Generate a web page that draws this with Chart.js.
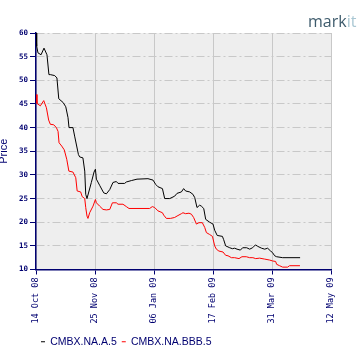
<!DOCTYPE html>
<html>
<head>
<meta charset="utf-8">
<script src="https://cdn.jsdelivr.net/npm/chart.js@4.4.0/dist/chart.umd.min.js"></script>
<style>
  body { margin: 0; background: #fff; }
  #wrap { width: 360px; height: 360px; }
</style>
</head>
<body>
<div id="wrap"><canvas id="cmbx-chart" width="360" height="360"></canvas></div>
<script>
// days after 14 Oct 08
const aDays = [0, 0.5, 1.4, 3.6, 5.7, 7.8, 9.2, 10.2, 13.3, 14.9,
  16.2, 19.3, 21.2, 22.8, 23.5, 26.3, 27.5, 30.2, 31.1, 33.4,
  34.7, 35.4, 36.3, 39.4, 41.3, 42.3, 43.0, 45.3, 48.2, 50.1,
  52.5, 54.8, 57.2, 58.4, 63.1, 64.3, 67.9, 71.9, 79.7, 83.3,
  85.2, 86.8, 90.0, 91.6, 95.2, 98.7, 100.4, 103.5, 105.1, 106.5,
  109.4, 111.7, 113.0, 114.6, 116.5, 117.7, 119.4, 120.8, 123.6, 126.0,
  127.2, 129.0, 132.7, 133.6, 135.0, 137.9, 139.8, 141.4, 143.1, 145.5,
  147.1, 150.0, 152.1, 154.2, 156.2, 157.8, 160.6, 162.8, 164.9, 167.0,
  168.3, 169.9, 171.3, 175.6, 188.0];
const aPrices = [60.0, 57.2, 55.8, 55.4, 56.8, 55.4, 51.2, 51.2, 51.0, 50.5,
  46.1, 45.3, 44.4, 42.1, 40.0, 40.0, 38.2, 34.3, 33.8, 33.6,
  30.8, 25.9, 25.0, 28.4, 30.6, 31.2, 29.1, 27.8, 26.2, 26.0,
  26.9, 28.4, 28.6, 28.2, 28.2, 28.5, 28.8, 29.1, 29.2, 28.9,
  28.0, 27.5, 27.1, 25.0, 25.0, 25.5, 26.1, 26.4, 27.1, 26.6,
  26.4, 25.9, 25.2, 23.1, 23.6, 23.4, 22.9, 20.6, 20.0, 19.6,
  18.3, 17.2, 17.0, 16.3, 15.0, 14.6, 14.4, 14.5, 14.3, 14.1,
  14.6, 14.6, 14.3, 14.6, 15.2, 14.9, 14.5, 14.3, 14.5, 13.9,
  13.6, 12.9, 12.7, 12.5, 12.5];

const bDays = [0, 0.7, 3.1, 5.5, 7.4, 9.0, 10.2, 12.6, 14.5, 15.7,
  16.4, 18.3, 20.1, 21.9, 23.4, 26.3, 28.3, 29.3, 31.8, 32.9,
  34.7, 35.4, 36.3, 37.0, 38.2, 40.6, 42.3, 43.0, 45.3, 47.7,
  50.1, 52.5, 54.4, 57.2, 58.4, 61.9, 64.3, 66.2, 80.9, 82.8,
  84.5, 86.8, 90.0, 90.9, 92.8, 95.7, 98.7, 100.4, 103.5, 104.6,
  106.5, 108.9, 110.6, 112.2, 114.2, 116.0, 118.4, 120.1, 121.3, 123.6,
  125.6, 127.2, 128.4, 130.2, 133.1, 135.0, 136.7, 139.1, 141.4, 144.5,
  146.6, 149.7, 152.1, 154.4, 156.4, 159.2, 162.8, 166.3, 168.5, 170.6,
  171.3, 173.4, 175.6, 179.1, 180.5, 187.9];
const bPrices = [47.0, 45.1, 44.6, 45.7, 44.2, 41.6, 40.7, 40.6, 40.0, 39.2,
  36.8, 36.1, 35.3, 33.3, 30.8, 30.6, 29.4, 26.6, 26.4, 25.4,
  25.0, 23.1, 21.3, 20.8, 22.0, 23.4, 24.8, 24.1, 23.4, 22.7,
  22.6, 22.7, 24.1, 24.1, 23.8, 23.8, 23.3, 22.9, 22.9, 23.3,
  23.1, 22.4, 22.0, 21.5, 20.8, 20.8, 21.0, 21.3, 21.8, 22.0,
  21.8, 21.9, 21.7, 21.0, 19.6, 19.9, 19.9, 18.9, 17.8, 17.4,
  17.0, 15.0, 14.3, 13.9, 13.7, 13.0, 12.9, 12.5, 12.5, 12.3,
  12.7, 12.7, 12.5, 12.5, 12.3, 12.4, 12.2, 12.0, 11.8, 11.7,
  11.1, 10.8, 10.5, 10.5, 10.8, 10.8];

const seriesNames = ["CMBX.NA.A.5", "CMBX.NA.BBB.5"];
const xTickLabels = ["14 Oct 08", "25 Nov 08", "06 Jan 09", "17 Feb 09", "31 Mar 09", "12 May 09"];

const navy = "#000070";

const plotBg = {
  id: "plotBg",
  beforeDraw(chart) {
    const { ctx, chartArea: a } = chart;
    ctx.save();
    ctx.fillStyle = "#eeeeee";
    ctx.fillRect(a.left, a.top, a.right - a.left, a.bottom - a.top);
    ctx.restore();
  },
};

const logo = {
  id: "logo",
  afterDraw(chart) {
    const ctx = chart.ctx;
    ctx.save();
    ctx.font = '16px "Open Sans"';
    ctx.textBaseline = "alphabetic";
    ctx.fillStyle = "#3e5b6c";
    ctx.fillText("mark", 308, 27);
    const w = ctx.measureText("mark").width;
    ctx.fillStyle = "#a9c7d3";
    ctx.fillText("it", 308 + w, 27);
    ctx.restore();
  },
};

const toPoints = (xs, ys) => xs.map((x, i) => ({ x: x, y: ys[i] }));

const ctx = document.getElementById("cmbx-chart");
const chart = new Chart(ctx, {
  type: "line",
  data: {
    datasets: [
      {
        label: seriesNames[0],
        data: toPoints(aDays, aPrices),
        borderColor: "#000000",
        backgroundColor: "#000000",
        borderWidth: 1,
        pointRadius: 0,
        tension: 0,
      },
      {
        label: seriesNames[1],
        data: toPoints(bDays, bPrices),
        borderColor: "#ff0000",
        backgroundColor: "#ff0000",
        borderWidth: 1,
        pointRadius: 0,
        tension: 0,
      },
    ],
  },
  options: {
    responsive: false,
    animation: false,
    layout: { padding: { top: 33, right: 29, bottom: 3, left: 0 } },
    plugins: {
      tooltip: { enabled: false },
      legend: {
        position: "bottom",
        align: "start",
        fullSize: false,
        labels: {
          usePointStyle: true,
          pointStyle: "line",
          pointStyleWidth: 4,
          boxHeight: 4,
          padding: 5,
          color: navy,
          font: { family: "Liberation Sans", size: 10.5 },
        },
      },
    },
    scales: {
      x: {
        type: "linear",
        min: 0,
        max: 210,
        ticks: {
          stepSize: 42,
          autoSkip: false,
          maxRotation: 90,
          minRotation: 90,
          padding: 3,
          color: navy,
          font: { family: "DejaVu Sans Mono", size: 8.5 },
          callback: (v) => xTickLabels[v / 42],
        },
        grid: { color: "#c8c8c8", tickColor: navy, tickLength: 5 },
        border: { color: navy, width: 1.5 },
        afterFit: (s) => { s.height = 62; },
      },
      y: {
        min: 10,
        max: 60,
        ticks: {
          stepSize: 5,
          padding: 2,
          color: navy,
          font: { family: "DejaVu Sans Mono", size: 7.5, weight: "bold" },
        },
        grid: { color: "#c8c8c8", tickColor: navy, tickLength: 6 },
        border: { color: navy, width: 1.5, dash: [8, 3, 2, 3] },
        title: {
          display: true,
          text: "Price",
          color: navy,
          font: { family: "Liberation Sans", size: 11, lineHeight: 0.8 },
          padding: { top: 0, bottom: 0 },
        },
        afterFit: (s) => { s.width = 36; },
      },
    },
  },
  plugins: [plotBg, logo],
});
</script>
</body>
</html>
